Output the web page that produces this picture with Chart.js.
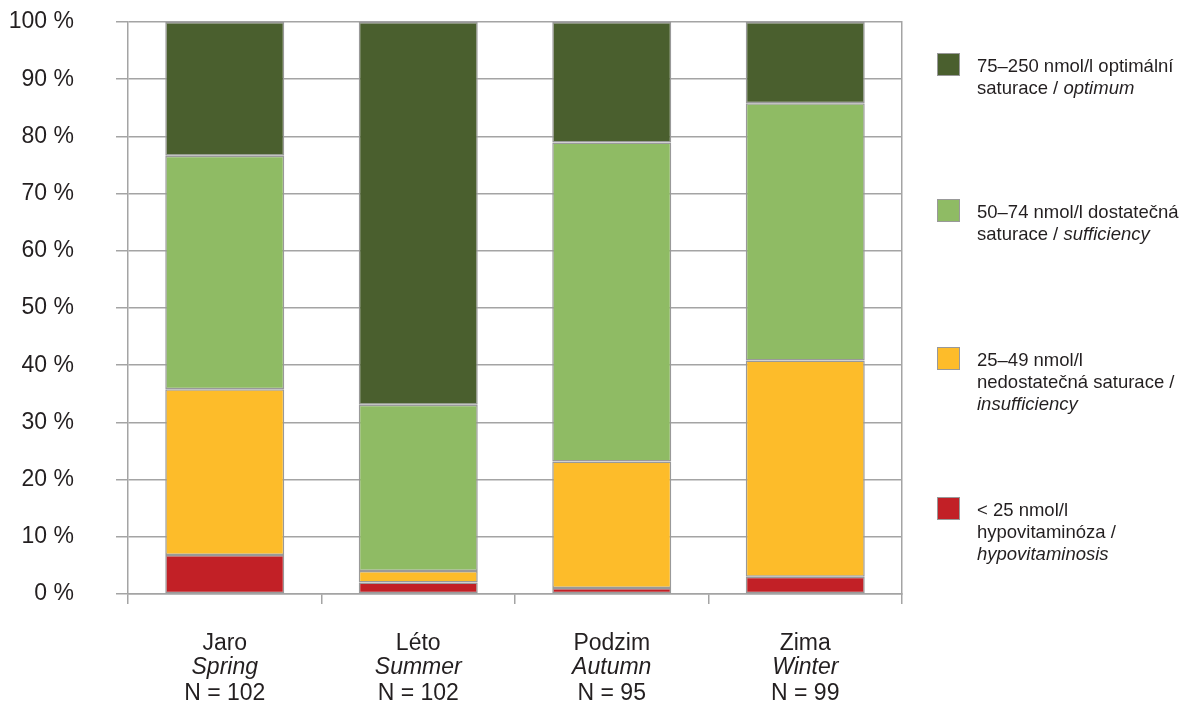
<!DOCTYPE html>
<html>
<head>
<meta charset="utf-8">
<script src="https://cdn.jsdelivr.net/npm/chart.js@4"></script>
<style>
  body { margin: 0; background: #fff; }
  #wrap { position: relative; width: 1183px; height: 707px; }
  #legend { position: absolute; left: 0; top: 0; font-family: "Liberation Sans", Arial, sans-serif; font-size: 18.5px; line-height: 22px; color: #231f20; }
  .item { position: absolute; left: 937px; }
  .box { position: absolute; left: 0; top: 0; width: 21px; height: 21px; border: 1px solid #999; }
  .txt { position: absolute; left: 40px; top: 2px; width: 240px; white-space: nowrap; }
</style>
</head>
<body>
<div id="wrap">
  <canvas id="chart" width="1183" height="707"></canvas>
  <div id="legend"></div>
</div>
<script>
// kategorie (osa x)
const catCz = ['Jaro', 'Léto', 'Podzim', 'Zima'];
const catEn = ['Spring', 'Summer', 'Autumn', 'Winter'];
const catN = [102, 102, 95, 99];

// podíly v %, od spodu nahoru
const hypo = [6.8, 2.0, 1.05, 3.0];
const insuff = [29.0, 2.0, 22.1, 37.8];
const suff = [40.8, 29.1, 55.8, 45.0];
const optim = [23.4, 66.9, 21.05, 14.2];

const yTicks = [0, 10, 20, 30, 40, 50, 60, 70, 80, 90, 100];

// legenda: česká část + anglická kurzívou
const legCz = ['< 25 nmol/l\nhypovitaminóza /\n', '25–49 nmol/l\nnedostatečná saturace /\n', '50–74 nmol/l dostatečná\nsaturace / ', '75–250 nmol/l optimální\nsaturace / '];
const legEn = ['hypovitaminosis', 'insufficiency', 'sufficiency', 'optimum'];
const colors = ['#c22026', '#fdbc2a', '#8fbb64', '#4a5f2e'];
const legendTop = [497, 347, 199, 53];

const FONT = '"Liberation Sans", Arial, sans-serif';
const TEXT = '#231f20';
const GRID = '#a4a4a4';

const seriesData = [hypo, insuff, suff, optim];
const datasets = seriesData.map((d, i) => ({
    label: legEn[i],
    data: d,
    backgroundColor: colors[i],
    borderColor: '#999999',
    borderWidth: 1.5,
    borderSkipped: false,
    barPercentage: 0.615,
    categoryPercentage: 1
}));

// popisky osy x (tři řádky, prostřední kurzívou)
const xLabels = {
    id: 'xLabels',
    afterDraw(chart) {
        const ctx = chart.ctx;
        const xs = chart.scales.x;
        ctx.save();
        ctx.fillStyle = TEXT;
        ctx.textAlign = 'center';
        ctx.textBaseline = 'alphabetic';
        catCz.forEach((c, i) => {
            const x = xs.getPixelForValue(i);
            ctx.font = '23px ' + FONT;
            ctx.fillText(c, x, 650);
            ctx.font = 'italic 23px ' + FONT;
            ctx.fillText(catEn[i], x, 674);
            ctx.font = '23px ' + FONT;
            ctx.fillText('N = ' + catN[i], x, 700);
        });
        ctx.restore();
    }
};

new Chart(document.getElementById('chart'), {
    type: 'bar',
    data: { labels: catCz, datasets: datasets },
    options: {
        responsive: false,
        animation: false,
        layout: { padding: { left: 0, top: 22, right: 281, bottom: 0 } },
        plugins: { legend: { display: false }, tooltip: { enabled: false } },
        scales: {
            x: {
                stacked: true,
                grid: { offset: true, drawOnChartArea: false, drawTicks: true, tickLength: 10, color: GRID, lineWidth: 1.5 },
                border: { color: GRID, width: 1.5 },
                ticks: { display: false },
                afterFit: s => { s.height = 113; }
            },
            y: {
                stacked: true,
                min: 0,
                max: 100,
                afterBuildTicks: s => { s.ticks = yTicks.map(v => ({ value: v })); },
                grid: { color: GRID, lineWidth: 1.5, tickLength: 12 },
                border: { color: GRID, width: 1.5 },
                ticks: {
                    padding: 42,
                    color: TEXT,
                    font: { family: FONT, size: 23 },
                    callback: v => v + ' %'
                },
                afterFit: s => { s.width = 128; s.paddingTop = 0; s.paddingBottom = 0; }
            },
            y2: {
                position: 'right',
                min: 0,
                max: 100,
                grid: { drawOnChartArea: false, drawTicks: false },
                border: { color: GRID, width: 1.5 },
                ticks: { display: false },
                afterFit: s => { s.width = 0; s.paddingTop = 0; s.paddingBottom = 0; }
            }
        }
    },
    plugins: [xLabels]
});

// HTML legenda
const legend = document.getElementById('legend');
legCz.forEach((t, i) => {
    const item = document.createElement('div');
    item.className = 'item';
    item.style.top = legendTop[i] + 'px';
    const box = document.createElement('div');
    box.className = 'box';
    box.style.background = colors[i];
    const txt = document.createElement('div');
    txt.className = 'txt';
    txt.innerHTML = t.replace(/</g, '&lt;').replace(/\n/g, '<br>') + '<i>' + legEn[i] + '</i>';
    item.appendChild(box);
    item.appendChild(txt);
    legend.appendChild(item);
});
</script>
</body>
</html>
